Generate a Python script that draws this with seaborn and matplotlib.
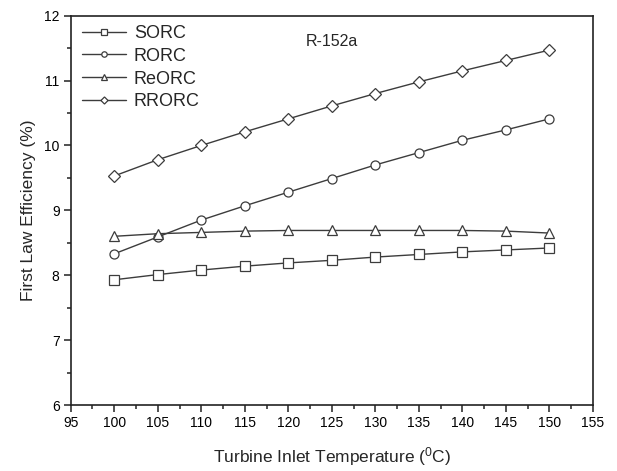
import matplotlib
matplotlib.use("Agg")
import matplotlib.pyplot as plt
import seaborn as sns
import pandas as pd
from matplotlib.ticker import MultipleLocator

temps = [100, 105, 110, 115, 120, 125, 130, 135, 140, 145, 150]
sorc = [7.93, 8.01, 8.08, 8.14, 8.19, 8.23, 8.28, 8.32, 8.36, 8.39, 8.42]
rorc = [8.33, 8.59, 8.85, 9.07, 9.28, 9.49, 9.70, 9.89, 10.08, 10.24, 10.41]
reorc = [8.60, 8.64, 8.66, 8.68, 8.69, 8.69, 8.69, 8.69, 8.69, 8.68, 8.65]
rrorc = [9.53, 9.78, 10.00, 10.21, 10.41, 10.61, 10.80, 10.98, 11.15, 11.31, 11.47]

series = {"SORC": (sorc, "s"), "RORC": (rorc, "o"), "ReORC": (reorc, "^"), "RRORC": (rrorc, "D")}

sns.set_style("ticks")
plt.rcParams["font.family"] = ["Liberation Sans", "DejaVu Sans"]
plt.rcParams["mathtext.default"] = "regular"

fig = plt.figure(figsize=(6.17, 4.71), dpi=100)
ax = fig.add_axes([0.1146, 0.1401, 0.8465, 0.8266])

line_col = "#3c3c3c"
for name, (vals, mk) in series.items():
    df = pd.DataFrame({"T": temps, "eff": vals})
    ms = 6.5 if mk != "D" else 6
    sns.lineplot(data=df, x="T", y="eff", ax=ax, color=line_col, marker=mk,
                 markersize=ms, markerfacecolor="white", markeredgecolor=line_col,
                 markeredgewidth=0.9, linewidth=1.0, label=name)

ax.set_xlim(95, 155)
ax.set_ylim(6, 12)
ax.xaxis.set_major_locator(MultipleLocator(5))
ax.xaxis.set_minor_locator(MultipleLocator(2.5))
ax.yaxis.set_major_locator(MultipleLocator(1))
ax.yaxis.set_minor_locator(MultipleLocator(0.5))
ax.tick_params(which="major", direction="out", length=5, width=1.1, labelsize=10,
               colors="#222222", labelcolor="black", pad=3)
ax.tick_params(which="minor", direction="out", length=3, width=1.1, colors="#222222")
for s in ax.spines.values():
    s.set_linewidth(1.2)
    s.set_color("#222222")

ax.set_xlabel("Turbine Inlet Temperature ($^{0}$C)", fontsize=12.5, labelpad=11)
ax.set_ylabel("First Law Efficiency (%)", fontsize=12.5, labelpad=6)
ax.text(125, 11.6, "R-152a", fontsize=11.5, ha="center", va="center")

leg = ax.legend(loc="upper left", bbox_to_anchor=(0.012, 0.99), frameon=False,
                fontsize=13, handlelength=2.4, labelspacing=0.32, handletextpad=0.45,
                borderaxespad=0.0, markerscale=0.6, borderpad=0.3)

fig.savefig("out.png", dpi=100)
